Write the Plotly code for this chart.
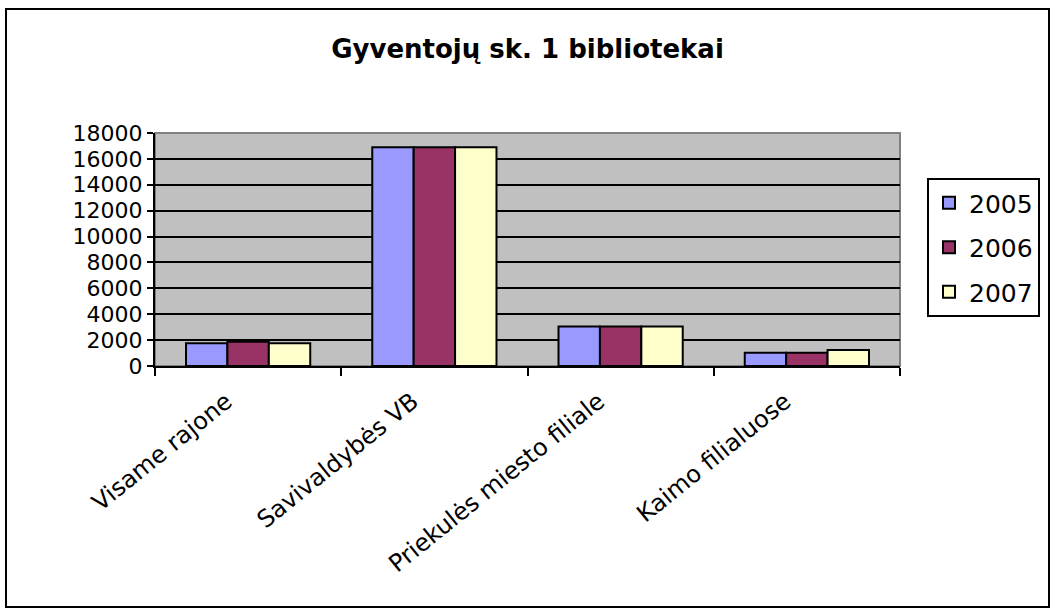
import plotly.graph_objects as go

categories = ["Visame rajone", "Savivaldybės VB", "Priekulės miesto filiale", "Kaimo filialuose"]
years = ["2005", "2006", "2007"]
values_2005 = [1750, 16900, 3050, 1030]
values_2006 = [1880, 16900, 3050, 1030]
values_2007 = [1750, 16900, 3050, 1230]
colors = ["#9999FF", "#993366", "#FFFFCC"]
y_ticks = [0, 2000, 4000, 6000, 8000, 10000, 12000, 14000, 16000, 18000]

W, H = 1055, 612
L, R, T, B = 155, 155, 133, 246
pw, ph = W - L - R, H - T - B

def px(x):
    return (x - L) / pw

def py(y):
    return (H - B - y) / ph

fig = go.Figure()
for yr, vals, col in zip(years, [values_2005, values_2006, values_2007], colors):
    fig.add_trace(go.Bar(
        x=categories, y=vals, name=yr, legendgroup=yr,
        marker=dict(color=col, line=dict(color="black", width=2)),
    ))

font = "DejaVu Sans, Arial, sans-serif"
fig.update_layout(
    width=W, height=H,
    margin=dict(l=L, r=R, t=T, b=B),
    paper_bgcolor="white", plot_bgcolor="#C0C0C0",
    barmode="group", bargap=0.333, bargroupgap=0,
    font=dict(family=font, color="black", size=24),
    title=dict(text="<b>Gyventojų sk. 1 bibliotekai</b>", x=0.5, xanchor="center",
               y=1 - 49 / H, yanchor="middle", font=dict(size=26, family=font)),
    legend=dict(x=px(927), y=py(178), xanchor="left", yanchor="top",
                bordercolor="black", borderwidth=2, bgcolor="white",
                font=dict(size=25, family=font), traceorder="grouped",
                tracegroupgap=9),
    showlegend=True,
)
fig.update_yaxes(range=[0, 18000], tickvals=y_ticks, tickformat="d", showgrid=True,
                 gridcolor="black", gridwidth=2, zeroline=False,
                 showline=True, linecolor="black", linewidth=2,
                 ticks="outside", ticklen=6, tickwidth=2, tickcolor="black",
                 tickfont=dict(size=22, family=font))
fig.update_xaxes(showline=True, linecolor="black", linewidth=2,
                 ticks="outside", tickson="boundaries", ticklen=8, tickwidth=2,
                 tickcolor="black", tickangle=-39,
                 ticklabelshift=-22, ticklabelstandoff=10,
                 tickfont=dict(size=24, family=font))

# plot area border (gray top/right) and outer chart border
fig.add_shape(type="rect", xref="paper", yref="paper", x0=0, y0=0, x1=1, y1=1,
              line=dict(color="#808080", width=2), layer="below")
fig.add_shape(type="rect", xref="paper", yref="paper",
              x0=px(6), x1=px(1049), y0=py(607), y1=py(9),
              line=dict(color="black", width=2))

fig.write_html("out.html", config={"displayModeBar": False},
               post_script="document.body.style.margin='0';document.body.style.overflow='hidden';")
